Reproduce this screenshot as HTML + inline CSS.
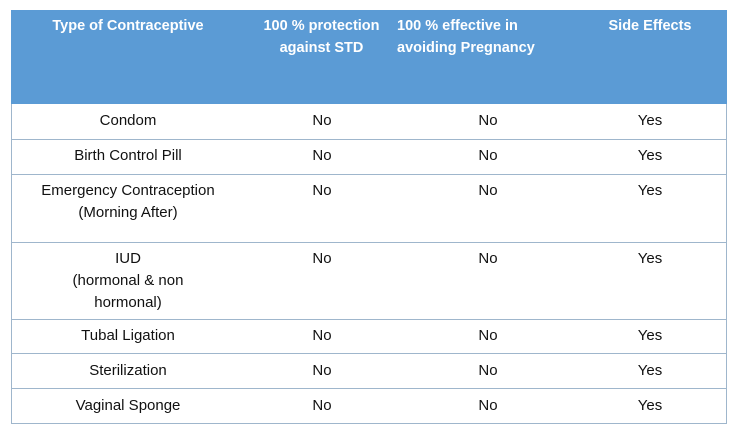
<!DOCTYPE html>
<html><head><style>
body{margin:0;width:735px;height:435px;background:#fff;position:relative;overflow:hidden;font-family:"Liberation Sans",sans-serif;}
.hdr{position:absolute;left:11px;top:10px;width:716px;height:94px;background:#5b9bd5;}
.h{position:absolute;color:#fff;font-weight:bold;font-size:14.5px;line-height:22px;text-align:center;}
.t{position:absolute;color:#111;font-size:15px;line-height:22px;text-align:center;}
.ln{position:absolute;left:11px;width:716px;height:1px;background:#9fb6cc;}
.vl{position:absolute;top:104px;width:1px;height:320px;background:#9fb6cc;}
</style></head><body>
<div class="hdr"></div>
<div class="h" style="left:11px;width:234px;top:15px">Type of Contraceptive</div>
<div class="h" style="left:245px;width:153px;top:15px">100 % protection<br>against STD</div>
<div class="h" style="left:397px;width:180px;top:15px;text-align:left">100 % effective in<br>avoiding Pregnancy</div>
<div class="h" style="left:570px;width:160px;top:15px">Side Effects</div>
<div class="vl" style="left:11px"></div>
<div class="vl" style="left:726px"></div>
<div class="ln" style="top:139px"></div>
<div class="ln" style="top:174px"></div>
<div class="ln" style="top:242px"></div>
<div class="ln" style="top:319px"></div>
<div class="ln" style="top:353px"></div>
<div class="ln" style="top:388px"></div>
<div class="ln" style="top:423px"></div>
<div class="t" style="left:11px;width:234px;top:110px">Condom</div>
<div class="t" style="left:11px;width:234px;top:145px">Birth Control Pill</div>
<div class="t" style="left:11px;width:234px;top:180px">Emergency Contraception<br>(Morning After)</div>
<div class="t" style="left:11px;width:234px;top:248px">IUD<br>(hormonal &amp; non<br>hormonal)</div>
<div class="t" style="left:11px;width:234px;top:325px">Tubal Ligation</div>
<div class="t" style="left:11px;width:234px;top:360px">Sterilization</div>
<div class="t" style="left:11px;width:234px;top:395px">Vaginal Sponge</div>
<div class="t" style="left:272px;width:100px;top:110px">No</div>
<div class="t" style="left:272px;width:100px;top:145px">No</div>
<div class="t" style="left:272px;width:100px;top:180px">No</div>
<div class="t" style="left:272px;width:100px;top:248px">No</div>
<div class="t" style="left:272px;width:100px;top:325px">No</div>
<div class="t" style="left:272px;width:100px;top:360px">No</div>
<div class="t" style="left:272px;width:100px;top:395px">No</div>
<div class="t" style="left:438px;width:100px;top:110px">No</div>
<div class="t" style="left:438px;width:100px;top:145px">No</div>
<div class="t" style="left:438px;width:100px;top:180px">No</div>
<div class="t" style="left:438px;width:100px;top:248px">No</div>
<div class="t" style="left:438px;width:100px;top:325px">No</div>
<div class="t" style="left:438px;width:100px;top:360px">No</div>
<div class="t" style="left:438px;width:100px;top:395px">No</div>
<div class="t" style="left:600px;width:100px;top:110px">Yes</div>
<div class="t" style="left:600px;width:100px;top:145px">Yes</div>
<div class="t" style="left:600px;width:100px;top:180px">Yes</div>
<div class="t" style="left:600px;width:100px;top:248px">Yes</div>
<div class="t" style="left:600px;width:100px;top:325px">Yes</div>
<div class="t" style="left:600px;width:100px;top:360px">Yes</div>
<div class="t" style="left:600px;width:100px;top:395px">Yes</div>
</body></html>
